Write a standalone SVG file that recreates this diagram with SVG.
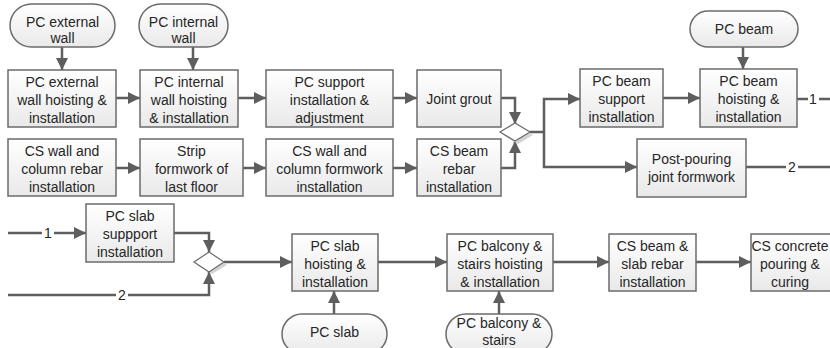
<svg xmlns="http://www.w3.org/2000/svg" width="830" height="348" viewBox="0 0 830 348">
<defs>
<linearGradient id="g" x1="0" y1="0" x2="0" y2="1"><stop offset="0" stop-color="#ffffff"/><stop offset="1" stop-color="#e9e9e9"/></linearGradient>
<marker id="ah" markerUnits="userSpaceOnUse" markerWidth="14" markerHeight="14" refX="12" refY="6" orient="auto"><path d="M0,0 L12,6 L0,12 Z" fill="#5e5e5e"/></marker>
</defs>
<style>
.b{fill:url(#g);stroke:#6b6b6b;stroke-width:1.5}
.t{font-family:"Liberation Sans",Arial,sans-serif;font-size:14px;fill:#262626;text-anchor:middle}
.c{fill:none;stroke:#5e5e5e;stroke-width:2.5}
.a{marker-end:url(#ah)}
.d{fill:#fff;stroke:#6b6b6b;stroke-width:1.2}
.s{fill:#d4d4d4}
.lb{font-family:"Liberation Sans",Arial,sans-serif;font-size:14px;fill:#262626;text-anchor:middle}
</style>
<rect width="830" height="348" fill="#fff"/>

<g id="connectors">
<path class="c a" d="M62,47 V70"/>
<path class="c a" d="M193,47 V70"/>
<path class="c a" d="M743,47 V69"/>
<path class="c a" d="M116,98 H140"/>
<path class="c a" d="M238,98 H266"/>
<path class="c a" d="M393,98 H417"/>
<path class="c a" d="M116,168 H140"/>
<path class="c a" d="M243,168 H266"/>
<path class="c a" d="M393,168 H417"/>
<path class="c a" d="M501,98 H515 V124"/>
<path class="c a" d="M501,168 H515 V141"/>
<path class="c" d="M530,132 H544"/>
<path class="c a" d="M544,132 V99 H580"/>
<path class="c a" d="M544,132 V167 H637"/>
<path class="c a" d="M663,98 H700"/>
<path class="c" d="M797,99 H808 M819,99 H830"/>
<path class="c" d="M746,167 H786 M798,167 H830"/>
<path class="c" d="M8,233 H42"/>
<path class="c a" d="M54,233 H86"/>
<path class="c a" d="M174,233 H209 V252"/>
<path class="c" d="M8,295 H116"/>
<path class="c a" d="M128,295 H209 V272"/>
<path class="c a" d="M224,262 H292"/>
<path class="c a" d="M378,262 H447"/>
<path class="c a" d="M553,262 H609"/>
<path class="c a" d="M696,262 H751"/>
<path class="c a" d="M334,314 V291"/>
<path class="c a" d="M499,314 V291"/>
<text class="lb" x="813" y="104">1</text>
<text class="lb" x="792" y="172">2</text>
<text class="lb" x="48" y="238">1</text>
<text class="lb" x="122" y="300">2</text>
</g>

<g id="t_ext_wall"><rect class="b" x="10" y="4" width="105" height="43" rx="21.5"/><text class="t" x="62.5" y="27">PC external</text><text class="t" x="62.5" y="43">wall</text></g>
<g id="t_int_wall"><rect class="b" x="139" y="4" width="89" height="43" rx="21.5"/><text class="t" x="183.5" y="27">PC internal</text><text class="t" x="183.5" y="43">wall</text></g>
<g id="t_beam"><rect class="b" x="690" y="11" width="108" height="36" rx="18"/><text class="t" x="744" y="34">PC beam</text></g>

<g id="n_ext_hoist"><rect class="b" x="8" y="70" width="108" height="57"/><text class="t" x="62" y="87">PC external</text><text class="t" x="62" y="105">wall hoisting &amp;</text><text class="t" x="62" y="123">installation</text></g>
<g id="n_int_hoist"><rect class="b" x="140" y="70" width="98" height="57"/><text class="t" x="189" y="87">PC internal</text><text class="t" x="189" y="105">wall hoisting</text><text class="t" x="189" y="123">&amp; installation</text></g>
<g id="n_support"><rect class="b" x="266" y="70" width="127" height="57"/><text class="t" x="329.5" y="87">PC support</text><text class="t" x="329.5" y="105">installation &amp;</text><text class="t" x="329.5" y="123">adjustment</text></g>
<g id="n_grout"><rect class="b" x="417" y="70" width="84" height="57"/><text class="t" x="459" y="104">Joint grout</text></g>

<g id="n_cs_rebar"><rect class="b" x="8" y="139" width="108" height="57"/><text class="t" x="62" y="156">CS wall and</text><text class="t" x="62" y="174">column rebar</text><text class="t" x="62" y="192">installation</text></g>
<g id="n_strip"><rect class="b" x="140" y="139" width="103" height="57"/><text class="t" x="191.5" y="156">Strip</text><text class="t" x="191.5" y="174">formwork of</text><text class="t" x="191.5" y="192">last floor</text></g>
<g id="n_cs_form"><rect class="b" x="266" y="139" width="127" height="57"/><text class="t" x="329.5" y="156">CS wall and</text><text class="t" x="329.5" y="174">column formwork</text><text class="t" x="329.5" y="192">installation</text></g>
<g id="n_beam_rebar"><rect class="b" x="417" y="139" width="84" height="57"/><text class="t" x="459" y="156">CS beam</text><text class="t" x="459" y="174">rebar</text><text class="t" x="459" y="192">installation</text></g>

<g id="gw1"><polygon class="s" points="503,135 518,126 533,135 518,144"/><polygon class="d" points="500,132 515,123 530,132 515,141"/></g>

<g id="n_beam_support"><rect class="b" x="580" y="69" width="83" height="58"/><text class="t" x="621.5" y="86">PC beam</text><text class="t" x="621.5" y="104">support</text><text class="t" x="621.5" y="122">installation</text></g>
<g id="n_beam_hoist"><rect class="b" x="700" y="69" width="97" height="58"/><text class="t" x="748.5" y="86">PC beam</text><text class="t" x="748.5" y="104">hoisting &amp;</text><text class="t" x="748.5" y="122">installation</text></g>
<g id="n_postpour"><rect class="b" x="637" y="139" width="109" height="58"/><text class="t" x="691.5" y="164">Post-pouring</text><text class="t" x="691.5" y="182">joint formwork</text></g>

<g id="n_slab_support"><rect class="b" x="86" y="204" width="88" height="58"/><text class="t" x="130" y="221">PC slab</text><text class="t" x="130" y="239">suppport</text><text class="t" x="130" y="257">installation</text></g>
<g id="gw2"><polygon class="s" points="197,265 212,256 227,265 212,274"/><polygon class="d" points="194,262 209,252 224,262 209,272"/></g>
<g id="n_slab_hoist"><rect class="b" x="292" y="234" width="86" height="57"/><text class="t" x="335" y="251">PC slab</text><text class="t" x="335" y="269">hoisting &amp;</text><text class="t" x="335" y="287">installation</text></g>
<g id="n_balcony"><rect class="b" x="447" y="234" width="106" height="57"/><text class="t" x="500" y="251">PC balcony &amp;</text><text class="t" x="500" y="269">stairs hoisting</text><text class="t" x="500" y="287">&amp; installation</text></g>
<g id="n_cs_slab_rebar"><rect class="b" x="609" y="234" width="87" height="57"/><text class="t" x="652.5" y="251">CS beam &amp;</text><text class="t" x="652.5" y="269">slab rebar</text><text class="t" x="652.5" y="287">installation</text></g>
<g id="n_pour"><rect class="b" x="751" y="234" width="88" height="57"/><text class="t" x="790" y="251">CS concrete</text><text class="t" x="790" y="269">pouring &amp;</text><text class="t" x="790" y="287">curing</text></g>

<g id="t_slab"><rect class="b" x="282" y="314" width="105" height="40" rx="20"/><text class="t" x="334.5" y="337">PC slab</text></g>
<g id="t_balcony"><rect class="b" x="446" y="314" width="106" height="40" rx="20"/><text class="t" x="499" y="328">PC balcony &amp;</text><text class="t" x="499" y="345">stairs</text></g>
</svg>
